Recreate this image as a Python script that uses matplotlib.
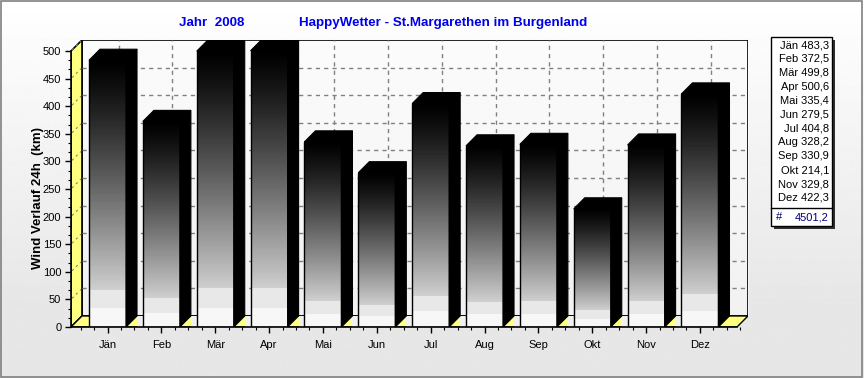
import numpy as np
import matplotlib
matplotlib.use("Agg")
import matplotlib.pyplot as plt
from matplotlib.patches import Polygon, Rectangle

plt.rcParams['font.family'] = ['Liberation Sans', 'DejaVu Sans']

# ---------------- data ----------------
months = ["Jän", "Feb", "Mär", "Apr", "Mai", "Jun", "Jul", "Aug", "Sep", "Okt", "Nov", "Dez"]
values = [483.3, 372.5, 499.8, 500.6, 335.4, 279.5, 404.8, 328.2, 330.9, 214.1, 329.8, 422.3]
y_ticks = [0, 50, 100, 150, 200, 250, 300, 350, 400, 450, 500]
title_left = "Jahr  2008"
title_right = "HappyWetter - St.Margarethen im Burgenland"
y_label = "Wind Verlauf 24h  (km)"

W, H = 864, 378
fig = plt.figure(figsize=(W / 100, H / 100), dpi=100)

# background gradient
bg = fig.add_axes([0, 0, 1, 1], zorder=-10)
rows = np.linspace(0, 1, 400)
grad = np.clip(1.0 - (1.0 - 0.905) * np.clip(rows / 0.8, 0, 1), 0, 1)
bg.imshow(grad[:, None], cmap='gray', vmin=0, vmax=1, aspect='auto',
          extent=[0, 1, 0, 1], origin='upper', interpolation='bilinear')
bg.set_xlim(0, 1); bg.set_ylim(0, 1); bg.axis('off')
bg.add_patch(Rectangle((0.001, 0.002), 0.997, 0.996, fill=False, ec='#808080', lw=1.2,
                       transform=bg.transAxes))

# main axes geometry (pixels)
pxL, pxR, pxB, pxT = 71, 748, 327, 40
x0, x1 = -0.678, 11.892
ymax = 520.0
dx = 11 / 53.86
dy = 20.0
ax = fig.add_axes([pxL / W, (H - pxB) / H, (pxR - pxL) / W, (pxB - pxT) / H])
ax.set_xlim(x0, x1)
ax.set_ylim(0, ymax)
ax.patch.set_alpha(0)

# back wall
wall = np.linspace(0.985, 0.945, 200)
ax.imshow(wall[:, None], cmap='gray', vmin=0, vmax=1, aspect='auto',
          extent=[x0 + dx, x1, dy, ymax], origin='upper', zorder=0)
ax.add_patch(Rectangle((x0 + dx, dy), x1 - x0 - dx, ymax - dy, fill=False,
                       ec='black', lw=1.2, zorder=1))
# side wall (yellow)
ax.add_patch(Polygon([(x0, 0), (x0 + dx, dy), (x0 + dx, ymax), (x0, 500)],
                     closed=True, fc='#ffff80', ec='black', lw=1.2, zorder=1))
# floor
ax.add_patch(Polygon([(x0, 0), (x1 - dx, 0), (x1, dy), (x0 + dx, dy)],
                     closed=True, fc='#ffff80', ec='black', lw=1.0, zorder=1))

# grid lines
for yv in y_ticks[1:-1]:
    ax.plot([x0 + dx, x1], [yv + dy, yv + dy], ls=(0, (3, 3)), color='#808080', lw=1.0, zorder=1.5)
for yv in y_ticks[1:]:
    ax.plot([x0 + 0.02, x0 + dx - 0.02], [yv + 2, yv + dy - 2], ls=(0, (2, 3)),
            color='#808080', lw=0.8, zorder=1.5)
for i in range(len(months)):
    ax.plot([i + dx, i + dx], [dy, ymax], ls=(0, (3, 3)), color='#808080', lw=1.0, zorder=1.5)

# bars
bw = 37 / 53.86
for i, v in enumerate(values):
    xl, xr = i - bw / 2, i + bw / 2
    # gap behind on floor
    if i < len(values) - 1:
        nxt = (i + 1) - bw / 2
        ax.add_patch(Rectangle((xr + dx, 0), nxt - xr - dx, dy, fc='#f0f0f0', ec='none', zorder=2))
    t = np.linspace(0, 1, 300)
    c = 0.97 * t ** 1.2
    c = np.where(t >= 0.86, 0.91, c)
    c = np.where(t >= 0.93, 0.965, c)
    ax.imshow(c[:, None], cmap='gray', vmin=0, vmax=1, aspect='auto',
              extent=[xl, xr, 0, v], origin='upper', interpolation='nearest', zorder=3)
    ax.add_patch(Rectangle((xl, 0), bw, v, fill=False, ec='black', lw=1.0, zorder=4))
    ax.add_patch(Polygon([(xr, 0), (xr + dx, dy), (xr + dx, v + dy), (xr, v)],
                         closed=True, fc='black', ec='black', lw=0.8, zorder=4))
    ax.add_patch(Polygon([(xl, v), (xl + dx, v + dy), (xr + dx, v + dy), (xr, v)],
                         closed=True, fc='black', ec='black', lw=0.8, zorder=4))

ax.set_xlim(x0, x1)
ax.set_ylim(0, ymax)

# axes / ticks
for s in ['top', 'right']:
    ax.spines[s].set_visible(False)
ax.spines['left'].set_bounds(0, 500)
ax.spines['bottom'].set_bounds(x0, x1 - dx)
ax.spines['left'].set_linewidth(1.2)
ax.spines['bottom'].set_linewidth(1.2)
ax.spines['left'].set_zorder(5)
ax.spines['bottom'].set_zorder(5)
ax.set_yticks(y_ticks)
ax.set_yticklabels([str(v) for v in y_ticks], fontsize=8)
ax.set_yticks(np.arange(0, 501, 50 / 3), minor=True)
ax.set_xticks(range(len(months)))
ax.set_xticklabels(months, fontsize=8)
ax.set_xticks(np.concatenate([np.arange(-0.5, 11.8, 0.25)]), minor=True)
ax.tick_params(axis='both', which='major', length=4, width=1, pad=3)
ax.tick_params(axis='both', which='minor', length=2, width=0.8)
ax.tick_params(axis='x', which='major', pad=5)
ax.set_ylabel(y_label, fontsize=9.5, fontweight='bold')
ax.yaxis.set_label_coords(-0.040, 0.45)

# titles
fig.text(211.5 / W, 1 - 23 / H, title_left, ha='center', va='center', fontsize=9.6,
         fontweight='bold', color='#0000ee')
fig.text(443.5 / W, 1 - 23 / H, title_right, ha='center', va='center', fontsize=9.6,
         fontweight='bold', color='#0000ee')

# legend box
lx0, lx1, ly0, ly1 = 771, 832, 37, 226
sep = 208
fig.add_artist(Rectangle(((lx0 + 3) / W, 1 - (ly1 + 3) / H), (lx1 - lx0) / W, (ly1 - ly0) / H,
                         transform=fig.transFigure, fc='#303030', ec='none', zorder=5))
fig.add_artist(Rectangle((lx0 / W, 1 - ly1 / H), (lx1 - lx0) / W, (ly1 - ly0) / H,
                         transform=fig.transFigure, fc='white', ec='black', lw=1.0, zorder=6))
fig.add_artist(plt.Line2D([lx0 / W, lx1 / W], [1 - sep / H, 1 - sep / H],
                          transform=fig.transFigure, color='black', lw=1.0, zorder=7))
for k, (m, v) in enumerate(zip(months, values)):
    yy = 45 + k * (198 - 45) / 11
    fig.text(829 / W, 1 - yy / H, f"{m} {v:.1f}".replace('.', ','), ha='right', va='center',
             fontsize=8, zorder=8)
total = sum(values)
fig.text(776 / W, 1 - 217 / H, "#", ha='left', va='center', fontsize=8, color='#000080', zorder=8)
fig.text(829 / W, 1 - 217 / H, f"{total:.1f}".replace('.', ','), ha='right', va='center',
         fontsize=8, color='#000080', zorder=8)

fig.savefig("out.png", dpi=100)
